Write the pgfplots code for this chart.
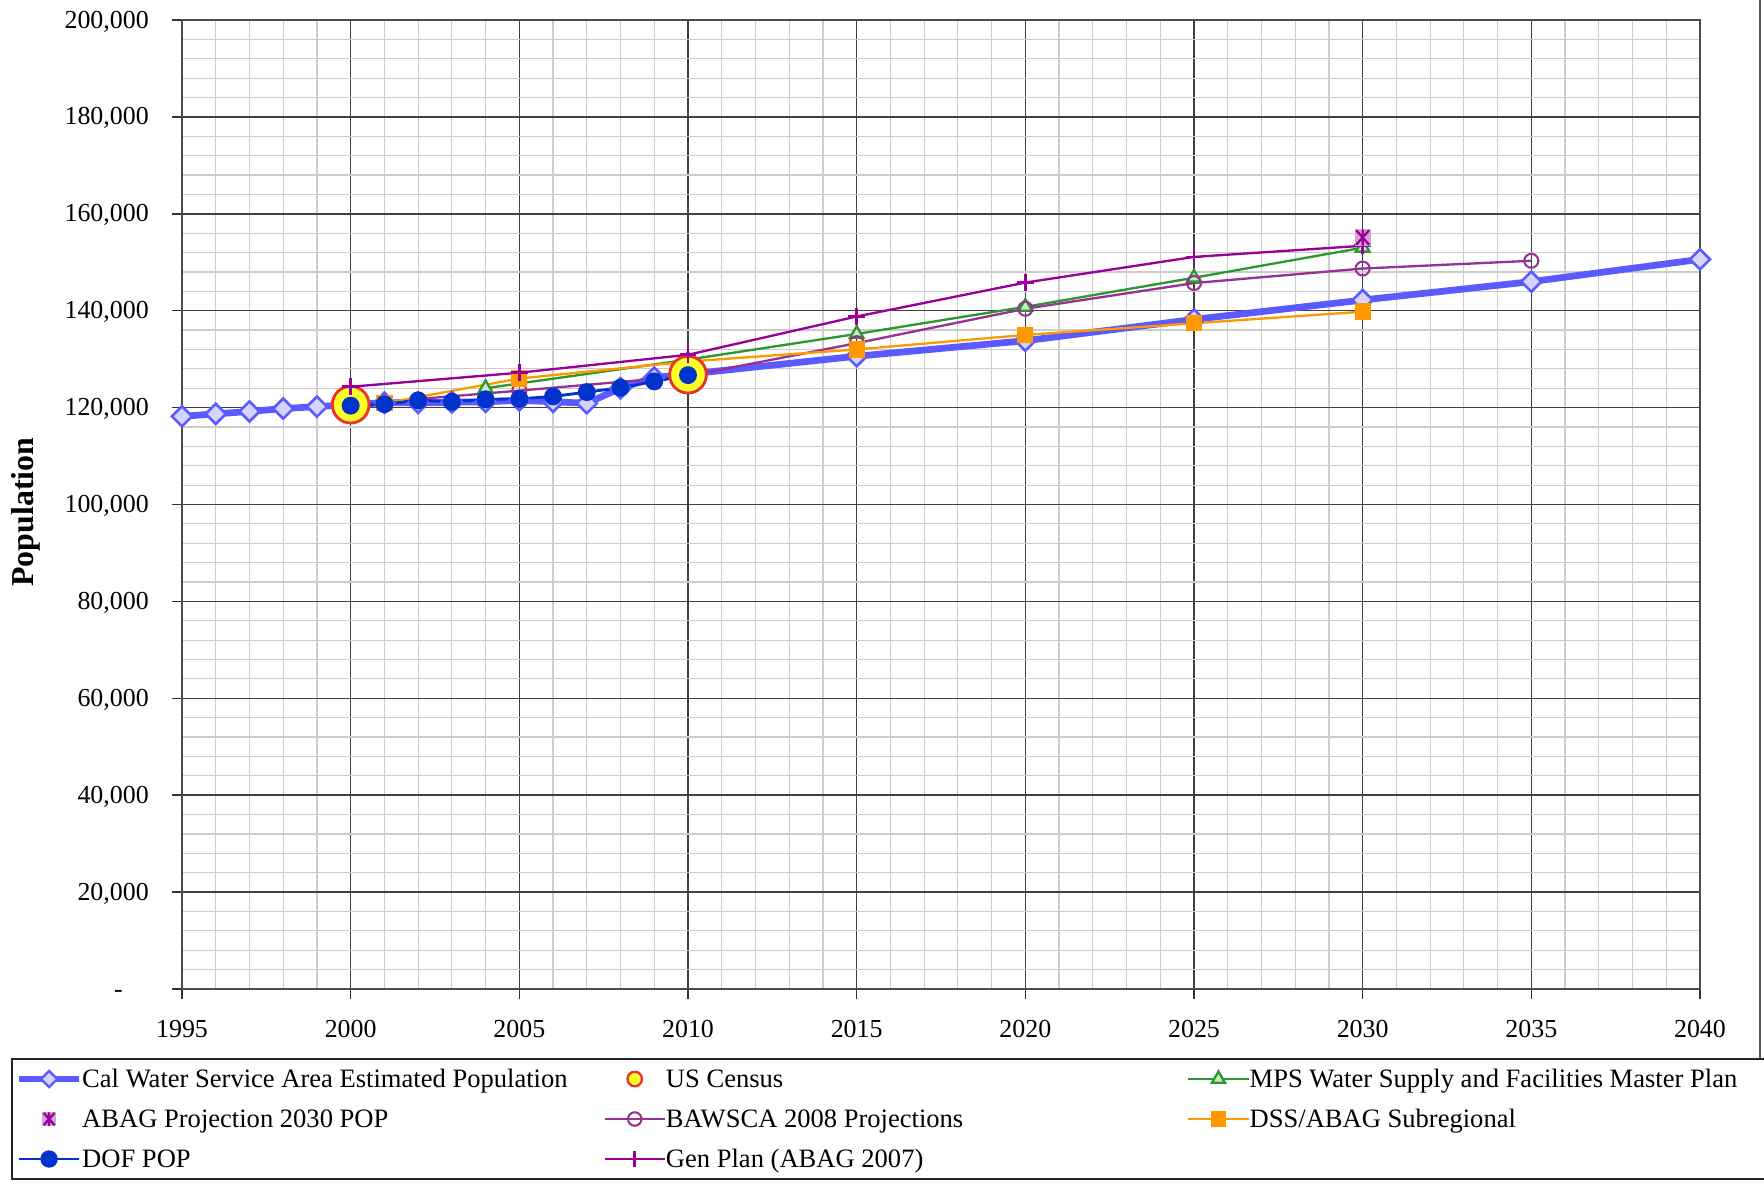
\documentclass[border=0pt]{standalone}
\usepackage{fontspec}
\setmainfont{Liberation Serif}
\usepackage{pgfplots}
\pgfplotsset{compat=1.18}
\definecolor{calblue}{RGB}{90,90,255}
\definecolor{calfill}{RGB}{212,212,255}
\definecolor{censusred}{RGB}{235,50,45}
\definecolor{censusyel}{RGB}{255,255,40}
\definecolor{dofblue}{RGB}{0,51,204}
\definecolor{genpurple}{RGB}{153,0,153}
\definecolor{bawpurple}{RGB}{150,50,150}
\definecolor{mpsgreen}{RGB}{45,150,45}
\definecolor{mpsfill}{RGB}{205,235,205}
\definecolor{dssorange}{RGB}{255,153,0}
\definecolor{abagfill}{RGB}{210,165,210}
\pgfdeclareplotmark{abagstar}{%
  \begin{pgfscope}\pgfsetfillcolor{abagfill}%
  \pgfpathrectangle{\pgfqpoint{-\pgfplotmarksize}{-\pgfplotmarksize}}{\pgfqpoint{2\pgfplotmarksize}{2\pgfplotmarksize}}%
  \pgfusepathqfill\end{pgfscope}%
  \pgfpathmoveto{\pgfqpoint{-0.8\pgfplotmarksize}{-0.9\pgfplotmarksize}}%
  \pgfpathlineto{\pgfqpoint{0.8\pgfplotmarksize}{0.9\pgfplotmarksize}}%
  \pgfpathmoveto{\pgfqpoint{-0.8\pgfplotmarksize}{0.9\pgfplotmarksize}}%
  \pgfpathlineto{\pgfqpoint{0.8\pgfplotmarksize}{-0.9\pgfplotmarksize}}%
  \pgfpathmoveto{\pgfqpoint{0pt}{-\pgfplotmarksize}}%
  \pgfpathlineto{\pgfqpoint{0pt}{\pgfplotmarksize}}%
  \pgfusepathqstroke}
\begin{document}
\begin{tikzpicture}
\useasboundingbox (-70.25pt,-75.66pt) rectangle (610.6pt,381.72pt);
\begin{axis}[
  scale only axis, width=585.9pt, height=374pt,
  xmin=1995, xmax=2040, ymin=0, ymax=200000,
  clip=false,
  xtick={1995,2000,...,2040},
  xticklabels={1995,2000,2005,2010,2015,2020,2025,2030,2035,2040},
  ytick={0,20000,...,200000},
  yticklabels={{-\phantom{00}},{20,000},{40,000},{60,000},{80,000},{100,000},{120,000},{140,000},{160,000},{180,000},{200,000}},
  minor x tick num=4, minor y tick num=4,
  grid=both,
  major grid style={draw=black!75, line width=0.55pt},
  minor grid style={draw=black!20, line width=0.45pt},
  tick align=outside, major tick length=3.8pt, minor tick length=0pt,
  tick style={black!80, line width=0.6pt},
  axis line style={draw=black!70, line width=0.9pt},
  xtick pos=bottom, ytick pos=left,
  font=\fontsize{10}{12}\selectfont,
  xticklabel style={yshift=-4.9pt},
  yticklabel style={anchor=base east, yshift=-3.1pt, inner ysep=0pt, xshift=-5.5pt},
  ylabel={Population},
  ylabel style={at={(axis description cs:-0.1027,0.492)}, anchor=center, font=\fontsize{12.3}{14}\selectfont\bfseries},
  legend columns=3,
  legend cell align=left,
  legend image code/.code={\draw[mark repeat=2,mark phase=2,#1] plot coordinates {(0pt,0pt) (11.6pt,0pt) (23.2pt,0pt)};},
  legend style={at={(axis description cs:-0.11265,-0.0712)}, anchor=north west,
    draw=black!85, line width=0.8pt, fill=white,
    inner xsep=1.5pt, inner ysep=0pt, row sep=0pt, column sep=0pt,
    nodes={inner sep=0pt, text height=11pt, text depth=4.44pt},
    font=\fontsize{10.25}{12}\selectfont},
]
% legend entries (order as in reference)
\addlegendimage{calblue, line width=2.4pt, mark=square*, mark size=2.2pt, mark options={rotate=45, fill=calfill, draw=calblue, line width=0.9pt}}
\addlegendentry{\makebox[201.2pt][l]{Cal Water Service Area Estimated Population}}
\addlegendimage{only marks, mark=*, mark size=2.8pt, mark options={fill=censusyel, draw=censusred, line width=0.9pt}}
\addlegendentry{\makebox[201.2pt][l]{US Census}}
\addlegendimage{mpsgreen, line width=0.9pt, mark=triangle*, mark size=2.9pt, mark options={fill=mpsfill, draw=mpsgreen, line width=0.9pt}}
\addlegendentry{\makebox[200.6pt][l]{MPS Water Supply and Facilities Master Plan}}
\addlegendimage{only marks, genpurple, mark=abagstar, mark size=2.6pt, mark options={line width=0.9pt}}
\addlegendentry{\makebox[201.2pt][l]{ABAG Projection 2030 POP}}
\addlegendimage{bawpurple, line width=0.9pt, mark=o, mark size=2.6pt, mark options={line width=0.8pt}}
\addlegendentry{\makebox[201.2pt][l]{BAWSCA 2008 Projections}}
\addlegendimage{dssorange, line width=0.9pt, mark=square*, mark size=2.6pt}
\addlegendentry{\makebox[200.6pt][l]{DSS/ABAG Subregional}}
\addlegendimage{dofblue, line width=1.1pt, mark=*, mark size=2.8pt}
\addlegendentry{\makebox[201.2pt][l]{DOF POP}}
\addlegendimage{genpurple, line width=0.9pt, mark=+, mark size=3pt, mark options={line width=1pt}}
\addlegendentry{\makebox[201.2pt][l]{Gen Plan (ABAG 2007)}}
% Cal Water
\addplot[forget plot, calblue, line width=2.6pt, mark=square*, mark size=2.75pt, mark options={rotate=45, fill=calfill, draw=calblue, line width=1pt}]
coordinates {(1995,118200)(1996,118700)(1997,119200)(1998,119800)(1999,120200)(2000,120600)(2001,121000)(2002,121000)(2003,121100)(2004,121200)(2005,121500)(2006,121200)(2007,120900)(2008,124000)(2009,126200)(2010,126900)(2015,130600)(2020,133800)(2025,138200)(2030,142200)(2035,146000)(2040,150600)};
% MPS
\addplot[forget plot, mpsgreen, line width=0.9pt, mark=triangle*, mark size=3pt, mark options={fill=mpsfill, draw=mpsgreen, line width=0.9pt}]
coordinates {(2004,124000)(2010,129900)(2015,135200)(2020,140800)(2025,146800)(2030,153000)};
% BAWSCA
\addplot[forget plot, bawpurple, line width=0.9pt, mark=o, mark size=2.7pt, mark options={line width=0.8pt}]
coordinates {(2000,120600)(2005,123500)(2010,126500)(2015,133300)(2020,140400)(2025,145700)(2030,148700)(2035,150300)};
% DSS/ABAG
\addplot[forget plot, dssorange, line width=0.9pt, mark=square*, mark size=2.7pt]
coordinates {(2001,120900)(2005,126000)(2010,129500)(2015,132000)(2020,135000)(2025,137400)(2030,139800)};
% US Census
\addplot[forget plot, only marks, mark=*, mark size=7.1pt, mark options={fill=censusyel, draw=censusred, line width=1.1pt}]
coordinates {(2000,120600)(2010,126800)};
% Gen Plan
\addplot[forget plot, genpurple, line width=0.9pt, mark=+, mark size=3.2pt, mark options={line width=1pt}]
coordinates {(2000,124300)(2005,127200)(2010,130900)(2015,138800)(2020,145800)(2025,151100)(2030,153400)};
% ABAG 2030
\addplot[forget plot, only marks, genpurple, mark=abagstar, mark size=3.1pt, mark options={line width=0.9pt}]
coordinates {(2030,155100)};
% DOF
\addplot[forget plot, dofblue, line width=1.1pt, mark=*, mark size=2.9pt]
coordinates {(2000,120400)(2001,120700)(2002,121500)(2003,121200)(2004,121700)(2005,121800)(2006,122300)(2007,123200)(2008,124100)(2009,125400)(2010,126700)};
\end{axis}
\draw[black!65, line width=0.8pt] (609.1pt,381.72pt) -- (609.1pt,-26.6pt);
\end{tikzpicture}
\end{document}
